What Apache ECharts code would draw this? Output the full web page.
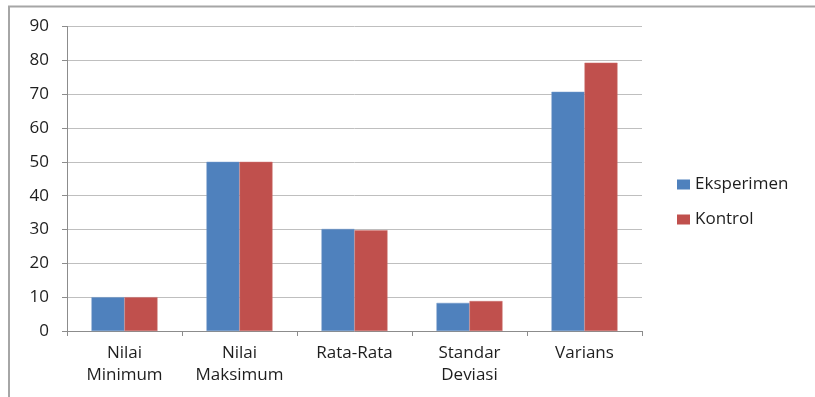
<!DOCTYPE html>
<html>
<head>
<meta charset="utf-8">
<script src="https://cdn.jsdelivr.net/npm/echarts@6/dist/echarts.min.js"></script>
<style>
  html, body { margin: 0; padding: 0; background: #ffffff; }
  #chart { width: 815px; height: 397px; }
</style>
</head>
<body>
<div id="chart"></div>
<script>
// Descriptive statistics per group
const categories = ['Nilai\nMinimum', 'Nilai\nMaksimum', 'Rata-Rata', 'Standar\nDeviasi', 'Varians'];
const eksperimen = [10, 50, 30.15, 8.3, 70.7];
const kontrol = [10, 50, 29.8, 8.85, 79.3];
const yTicks = { min: 0, max: 90, interval: 10 };

const chart = echarts.init(document.getElementById('chart'), null, { renderer: 'canvas' });
const fontFamily = '"Open Sans", "Noto Sans", sans-serif';
const textColor = '#1e1e1e';

chart.setOption({
  animation: false,
  backgroundColor: '#ffffff',
  graphic: [
    {
      type: 'polyline',
      shape: { points: [[9, 397], [9, 6.5], [815, 6.5]] },
      style: { stroke: '#a6a6a6', lineWidth: 2, fill: null },
      silent: true
    }
  ],
  grid: { left: 67, top: 26.5, width: 575, height: 304.5, containLabel: false },
  legend: {
    orient: 'vertical',
    left: 672,
    top: 171,
    itemWidth: 13,
    itemHeight: 10,
    itemGap: 18,
    itemStyle: { borderWidth: 0 },
    icon: 'rect',
    textStyle: { fontFamily, fontSize: 17, color: textColor },
    data: ['Eksperimen', 'Kontrol']
  },
  xAxis: {
    type: 'category',
    data: categories,
    axisLine: { lineStyle: { color: '#8c8c8c', width: 1 } },
    axisTick: { show: true, length: 5, lineStyle: { color: '#8c8c8c' } },
    axisLabel: { fontFamily, fontSize: 17, color: textColor, margin: 11, lineHeight: 22 }
  },
  yAxis: {
    type: 'value',
    min: yTicks.min,
    max: yTicks.max,
    interval: yTicks.interval,
    axisLine: { show: true, lineStyle: { color: '#8c8c8c', width: 1 } },
    axisTick: { show: true, length: 5, lineStyle: { color: '#8c8c8c' } },
    axisLabel: { fontFamily, fontSize: 17, color: textColor, margin: 18 },
    splitLine: { lineStyle: { color: '#bfbfbf', width: 1 } }
  },
  series: [
    {
      name: 'Eksperimen',
      type: 'bar',
      data: eksperimen,
      barGap: '0%',
      barCategoryGap: '42.6%',
      itemStyle: { color: '#4f81bd', borderColor: '#6e97c8', borderWidth: 0.5 }
    },
    {
      name: 'Kontrol',
      type: 'bar',
      data: kontrol,
      barGap: '0%',
      barCategoryGap: '42.6%',
      itemStyle: { color: '#c0504d', borderColor: '#cc716e', borderWidth: 0.5 }
    }
  ]
});
</script>
</body>
</html>
